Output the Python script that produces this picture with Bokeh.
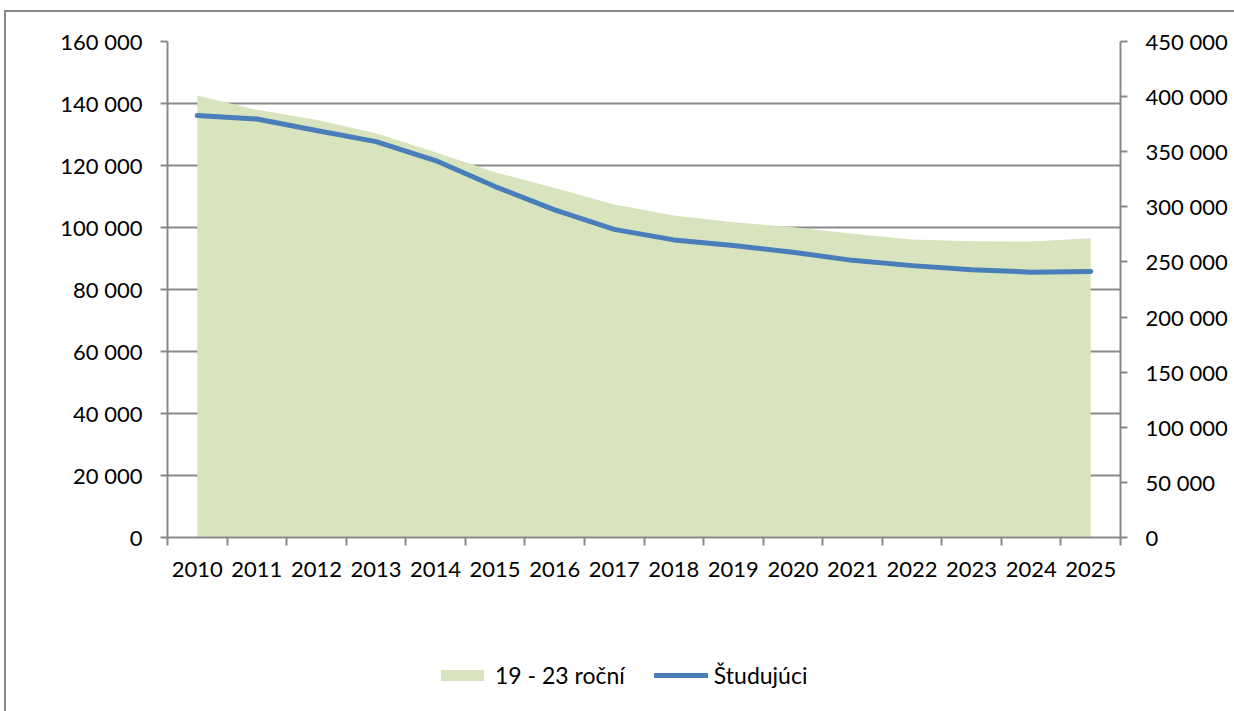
from bokeh.plotting import figure
from bokeh.models import Range1d, LinearAxis, FixedTicker, Legend, LegendItem
from bokeh.layouts import column
from bokeh.embed import file_html
from bokeh.resources import INLINE

years = ["2010", "2011", "2012", "2013", "2014", "2015", "2016", "2017",
         "2018", "2019", "2020", "2021", "2022", "2023", "2024", "2025"]
studujuci = [136100, 135000, 131300, 127700, 121600, 113200, 105700, 99400,
             96000, 94200, 92000, 89400, 87700, 86400, 85600, 85800]
rocni_19_23 = [401000, 388000, 379000, 366800, 349600, 331400, 317200, 302100,
               292100, 286100, 281500, 275500, 270400, 268800, 268500, 271600]
left_ticks = [0, 20000, 40000, 60000, 80000, 100000, 120000, 140000, 160000]
right_ticks = [0, 50000, 100000, 150000, 200000, 250000, 300000, 350000, 400000, 450000]
series_names = ["19 - 23 roční", "Študujúci"]

def fmt(v):
    return f"{v:,}".replace(",", " ")

FONT = "Lato"
GRAY = "#898989"
FS = "22px"
AREA_COLOR = "#D7E4BD"
LINE_COLOR = "#4A7EBB"

xc = [i + 0.5 for i in range(len(years))]

p = figure(width=1228, height=588, output_backend="svg", toolbar_location=None,
           x_range=Range1d(0, len(years)), y_range=Range1d(0, 160000))
p.min_border_left = 161
p.min_border_right = 114
p.min_border_top = 29
p.min_border_bottom = 63
p.outline_line_color = None
p.background_fill_color = "white"
p.border_fill_color = "white"

p.extra_y_ranges = {"right": Range1d(0, 450000)}

area = p.varea(x=xc, y1=[0] * len(years), y2=rocni_19_23, y_range_name="right",
               fill_color=AREA_COLOR, fill_alpha=1.0)
line = p.line(x=xc, y=studujuci, line_color=LINE_COLOR, line_width=5,
              line_cap="round", line_join="round")

# x axis
xax = p.xaxis[0]
xax.ticker = FixedTicker(ticks=xc, minor_ticks=list(range(len(years) + 1)))
xax.major_label_overrides = {x: y for x, y in zip(xc, years)}
xax.major_tick_line_color = None
xax.minor_tick_line_color = GRAY
xax.minor_tick_line_width = 2
xax.minor_tick_out = 8
xax.minor_tick_in = 0
xax.axis_line_color = GRAY
xax.axis_line_width = 2
xax.major_label_standoff = 16
xax.major_label_text_font = FONT
xax.major_label_text_font_size = FS
xax.major_label_text_color = "black"

# left axis
yax = p.yaxis[0]
yax.ticker = FixedTicker(ticks=left_ticks)
yax.major_label_overrides = {t: fmt(t) for t in left_ticks}
yax.minor_tick_line_color = None
yax.major_tick_line_color = GRAY
yax.major_tick_line_width = 2
yax.major_tick_out = 7
yax.major_tick_in = 0
yax.axis_line_color = GRAY
yax.axis_line_width = 2
yax.major_label_standoff = 18
yax.major_label_text_font = FONT
yax.major_label_text_font_size = FS
yax.major_label_text_color = "black"

# right axis
rax = LinearAxis(y_range_name="right", ticker=FixedTicker(ticks=right_ticks))
rax.major_label_overrides = {t: fmt(t) for t in right_ticks}
rax.minor_tick_line_color = None
rax.major_tick_line_color = GRAY
rax.major_tick_line_width = 2
rax.major_tick_out = 7
rax.major_tick_in = 0
rax.axis_line_color = GRAY
rax.axis_line_width = 2
rax.major_label_standoff = 18
rax.major_label_text_font = FONT
rax.major_label_text_font_size = FS
rax.major_label_text_color = "black"
p.add_layout(rax, "right")

p.xgrid.grid_line_color = None
p.ygrid.ticker = FixedTicker(ticks=left_ticks)
p.ygrid.grid_line_color = GRAY
p.ygrid.grid_line_width = 2

# legend figure
lg = figure(width=1228, height=111, output_backend="svg", toolbar_location=None,
            x_range=Range1d(0, 1), y_range=Range1d(0, 1),
            x_axis_location=None, y_axis_location=None)
lg.min_border = 0
lg.outline_line_color = None
lg.xgrid.grid_line_color = None
lg.ygrid.grid_line_color = None
la = lg.varea(x=[5, 6], y1=[5, 5], y2=[6, 6], fill_color=AREA_COLOR, fill_alpha=1.0)
ll = lg.line(x=[5, 6], y=[5, 5], line_color=LINE_COLOR, line_width=5, line_cap="round")

legend = Legend(items=[LegendItem(label=series_names[0], renderers=[la]),
                       LegendItem(label=series_names[1], renderers=[ll])],
                orientation="horizontal", location=(268, 22))
legend.border_line_color = None
legend.background_fill_alpha = 0
legend.label_text_font = FONT
legend.label_text_font_size = "23px"
legend.label_text_color = "black"
legend.glyph_width = 54
legend.glyph_height = 14
legend.label_standoff = 6
legend.spacing = 29
legend.margin = 0
legend.padding = 0
lg.add_layout(legend, "center")

layout = column(p, lg, spacing=0,
                styles={"margin-top": "10px", "margin-left": "4px",
                        "border-top": "2px solid #888888",
                        "border-left": "2px solid #888888"})
open("out.html", "w").write(file_html(layout, INLINE))
